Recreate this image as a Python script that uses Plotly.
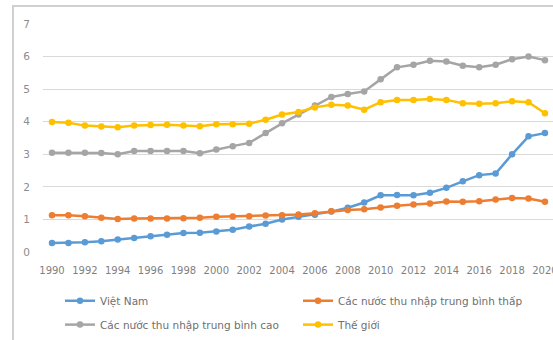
import plotly.graph_objects as go

years = list(range(1990, 2021))
viet_nam = [0.28, 0.28, 0.30, 0.33, 0.38, 0.43, 0.48, 0.53, 0.58, 0.59, 0.63, 0.68, 0.78, 0.87, 1.00, 1.08,
            1.14, 1.24, 1.36, 1.52, 1.74, 1.75, 1.74, 1.82, 1.97, 2.17, 2.36, 2.41, 3.00, 3.55, 3.65]
lower_middle = [1.13, 1.13, 1.10, 1.05, 1.01, 1.03, 1.03, 1.03, 1.04, 1.05, 1.08, 1.09, 1.10, 1.12, 1.13, 1.15,
                1.19, 1.25, 1.29, 1.31, 1.37, 1.42, 1.46, 1.49, 1.55, 1.54, 1.56, 1.61, 1.66, 1.64, 1.54]
upper_middle = [3.05, 3.05, 3.05, 3.04, 3.00, 3.10, 3.10, 3.10, 3.10, 3.03, 3.15, 3.25, 3.35, 3.65, 3.95, 4.22,
                4.50, 4.76, 4.85, 4.93, 5.30, 5.67, 5.75, 5.87, 5.85, 5.72, 5.67, 5.75, 5.92, 6.00, 5.89]
world = [3.99, 3.97, 3.88, 3.85, 3.83, 3.88, 3.90, 3.91, 3.88, 3.86, 3.92, 3.92, 3.94, 4.06, 4.22, 4.30,
         4.44, 4.52, 4.50, 4.37, 4.60, 4.67, 4.67, 4.70, 4.67, 4.57, 4.55, 4.57, 4.63, 4.60, 4.26]

series_names = ["Việt Nam", "Các nước thu nhập trung bình thấp",
                "Các nước thu nhập trung bình cao", "Thế giới"]
series_values = [viet_nam, lower_middle, upper_middle, world]
colors = ["#5B9BD5", "#ED7D31", "#A5A5A5", "#FFC000"]
legend_refs = ["legend", "legend", "legend2", "legend2"]

fig = go.Figure()
for name, vals, c, lg in zip(series_names, series_values, colors, legend_refs):
    fig.add_trace(go.Scatter(
        x=years, y=vals, name=name, mode="lines+markers",
        line=dict(color=c, width=2.5),
        marker=dict(color=c, size=6.5, symbol="circle"),
        legend=lg,
    ))

font_family = "DejaVu Sans, Verdana, sans-serif"
legend_common = dict(
    orientation="h", xanchor="left", yanchor="top",
    entrywidth=193, entrywidthmode="pixels",
    font=dict(size=10.5, color="#6F6F6F", family=font_family),
    bgcolor="rgba(0,0,0,0)", borderwidth=0,
)

border_color = "#D0D0D0"
fig.update_layout(
    width=553, height=340,
    margin=dict(l=0, r=0, t=0, b=0, pad=0, autoexpand=False),
    paper_bgcolor="white", plot_bgcolor="white",
    font=dict(family=font_family, color="#7F7F7F", size=10),
    showlegend=True,
    legend=dict(x=0.1085, y=0.1582, **legend_common),
    legend2=dict(x=0.1085, y=0.0879, **legend_common),
    xaxis=dict(
        domain=[43 / 553, 1.0],
        range=[1989.452, 2020.49], tick0=1990, dtick=2,
        showgrid=False, zeroline=False, showline=False,
        ticks="", ticklabelstandoff=11, ticklabeloverflow="allow",
        tickfont=dict(size=10, color="#7F7F7F"),
    ),
    yaxis=dict(
        domain=[88 / 340, 316 / 340],
        range=[0, 7], dtick=1, showgrid=True, gridcolor="#D9D9D9", gridwidth=1,
        zeroline=False, showline=False, ticks="", ticklabelstandoff=12,
        tickfont=dict(size=10.5, color="#8C8C8C"),
    ),
    shapes=[
        dict(type="rect", xref="paper", yref="paper",
             x0=13 / 553, x1=1.2, y0=-0.2, y1=334 / 340,
             line=dict(color=border_color, width=2), fillcolor="rgba(0,0,0,0)", layer="above"),
    ],
)

fig.write_html("out.html")
